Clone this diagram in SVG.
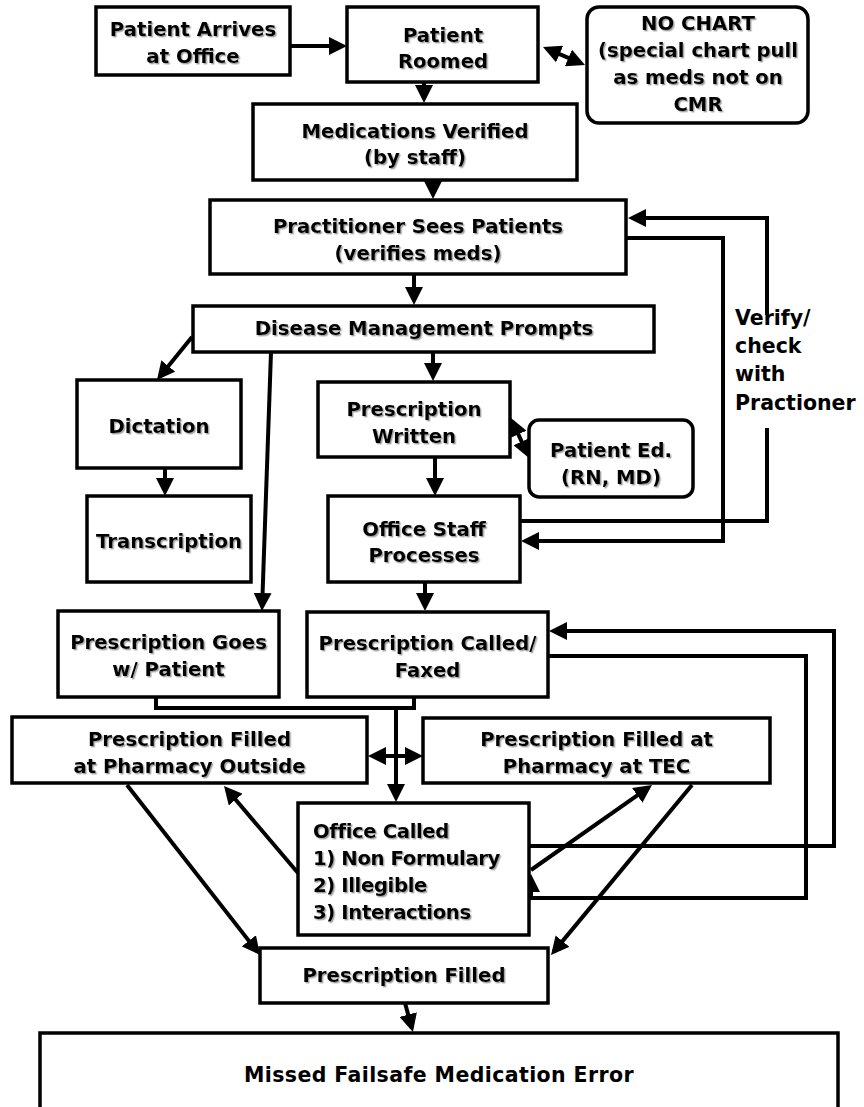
<svg xmlns="http://www.w3.org/2000/svg" width="864" height="1107" viewBox="0 0 864 1107">
<style>
.box{fill:#fff;stroke:#000;stroke-width:3.5}
.t{font-family:"DejaVu Sans",Verdana,sans-serif;font-weight:bold;font-size:19.7px;text-anchor:middle;fill:#000;filter:url(#sh)}
.l{text-anchor:start;letter-spacing:-0.4px}
.g{font-family:"DejaVu Sans",sans-serif;font-weight:bold;font-size:20.5px;fill:#000}
.c{fill:none;stroke:#000;stroke-width:4}
.a{marker-end:url(#ah)}
.b{marker-start:url(#ah);marker-end:url(#ah)}
</style>
<defs>
<filter id="sh" x="-5%" y="-20%" width="110%" height="140%">
<feDropShadow dx="1.4" dy="1.4" stdDeviation="0.3" flood-color="#666" flood-opacity="0.6"/>
</filter>
<marker id="ah" markerUnits="userSpaceOnUse" markerWidth="18" markerHeight="18" refX="14" refY="9" orient="auto-start-reverse" viewBox="0 0 18 18">
<path d="M0,0 L18,9 L0,18 Z" fill="#000"/>
</marker>
</defs>
<rect width="864" height="1107" fill="#fff"/>

<g id="connectors">
<path class="c a" d="M290,46 H343"/>
<path class="c b" d="M546.7,48.6 L581.3,63.4"/>
<path class="c a" d="M424,82 V99"/>
<path class="c a" d="M433,180 V195"/>
<path class="c a" d="M414,274 V301"/>
<path class="c a" d="M192,337 L159.5,376.9"/>
<path class="c a" d="M271,352 L262.1,607"/>
<path class="c a" d="M433,352 V377"/>
<path class="c b" d="M512.6,421.6 L527.4,454.4"/>
<path class="c a" d="M165,468 V492"/>
<path class="c a" d="M435,457 V492"/>
<path class="c a" d="M520,521 H767 V428 M767,315 V218 H632"/>
<path class="c a" d="M626,238 H723 V541 H525"/>
<path class="c a" d="M425,582 V607"/>
<path class="c" d="M156,697 V708 H414 V697"/>
<path class="c a" d="M396,708 V798"/>
<path class="c b" d="M372,756 H419"/>
<path class="c a" d="M298,873 L226.6,789"/>
<path class="c a" d="M531,870 L648.7,787.3"/>
<path class="c a" d="M529,846 H834 V631 H553"/>
<path class="c a" d="M548,656 H806 V898 H531 V878"/>
<path class="c a" d="M127,785 L257.5,951.8"/>
<path class="c a" d="M692,785 L553.6,951.9"/>
<path class="c a" d="M405,1003 L411.9,1028.1"/>
<g id="verify-label">
<text class="g" x="735" y="325">Verify/</text>
<text class="g" x="735" y="353">check</text>
<text class="g" x="735" y="381">with</text>
<text class="g" x="735" y="410">Practioner</text>
</g>
</g>

<g id="n-arrives"><rect class="box" x="96" y="7" width="194" height="68"/><text class="t" x="193" y="36">Patient Arrives</text><text class="t" x="193" y="63">at Office</text></g>
<g id="n-roomed"><rect class="box" x="347" y="7" width="191" height="75"/><text class="t" x="443" y="42">Patient</text><text class="t" x="443" y="68">Roomed</text></g>
<g id="n-nochart"><rect class="box" x="587" y="7" width="221" height="116" rx="12"/><text class="t" x="698" y="30">NO CHART</text><text class="t" x="698" y="57">(special chart pull</text><text class="t" x="698" y="84">as meds not on</text><text class="t" x="698" y="111">CMR</text></g>
<g id="n-meds"><rect class="box" x="253" y="104" width="324" height="76"/><text class="t" x="415" y="138">Medications Verified</text><text class="t" x="415" y="164">(by staff)</text></g>
<g id="n-practitioner"><rect class="box" x="210" y="200" width="416" height="74"/><text class="t" x="418" y="233">Practitioner Sees Patients</text><text class="t" x="418" y="260">(verifies meds)</text></g>
<g id="n-disease"><rect class="box" x="193" y="306" width="461" height="46"/><text class="t" x="424" y="335">Disease Management Prompts</text></g>
<g id="n-dictation"><rect class="box" x="77" y="380" width="164" height="88"/><text class="t" x="159" y="433">Dictation</text></g>
<g id="n-transcription"><rect class="box" x="87" y="496" width="164" height="86"/><text class="t" x="169" y="548">Transcription</text></g>
<g id="n-written"><rect class="box" x="318" y="382" width="192" height="75"/><text class="t" x="414" y="416">Prescription</text><text class="t" x="414" y="443">Written</text></g>
<g id="n-patiented"><rect class="box" x="529" y="420" width="164" height="77" rx="10"/><text class="t" x="611" y="457">Patient Ed.</text><text class="t" x="611" y="484">(RN, MD)</text></g>
<g id="n-officestaff"><rect class="box" x="328" y="496" width="192" height="86"/><text class="t" x="424" y="536">Office Staff</text><text class="t" x="424" y="562">Processes</text></g>
<g id="n-goes"><rect class="box" x="58" y="611" width="221" height="86"/><text class="t" x="168.5" y="649">Prescription Goes</text><text class="t" x="168.5" y="676">w/ Patient</text></g>
<g id="n-called"><rect class="box" x="307" y="612" width="241" height="85"/><text class="t" x="427.5" y="650">Prescription Called/</text><text class="t" x="427.5" y="677">Faxed</text></g>
<g id="n-outside"><rect class="box" x="12" y="717" width="355" height="66"/><text class="t" x="189.5" y="746">Prescription Filled</text><text class="t" x="189.5" y="773">at Pharmacy Outside</text></g>
<g id="n-tec"><rect class="box" x="423" y="718" width="347" height="65"/><text class="t" x="596.5" y="746">Prescription Filled at</text><text class="t" x="596.5" y="773">Pharmacy at TEC</text></g>
<g id="n-officecalled"><rect class="box" x="298" y="803" width="231" height="132"/><text class="t l" x="313" y="838">Office Called</text><text class="t l" x="313" y="865">1) Non Formulary</text><text class="t l" x="313" y="892">2) Illegible</text><text class="t l" x="313" y="919">3) Interactions</text></g>
<g id="n-filled"><rect class="box" x="260" y="948" width="288" height="55"/><text class="t" x="404" y="982">Prescription Filled</text></g>
<g id="n-missed"><rect class="box" x="40" y="1033" width="798" height="100"/><text class="g" x="439" y="1082" text-anchor="middle" letter-spacing="0.4">Missed Failsafe Medication Error</text></g>
</svg>
